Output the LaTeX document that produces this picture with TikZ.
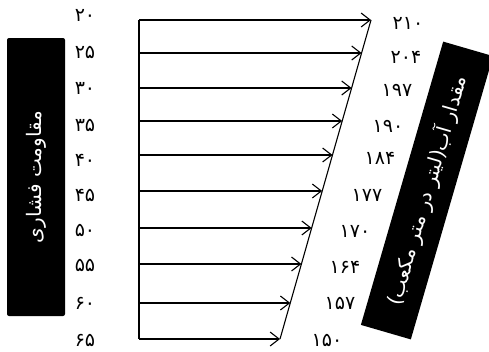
\documentclass[tikz,border=0pt]{standalone}
\usepackage{fontspec}
\usepackage{tikz}
\usetikzlibrary{arrows.meta, positioning}
\TeXXeTstate=1
\newfontfamily\arabicfont[Script=Arabic]{DejaVu Sans}

\begin{document}
\begin{tikzpicture}[
		x=1pt, y=-1pt,
		darkbox/.style={
			fill=black,
			text=white,
			inner sep=0pt,
			align=center,
			font=\arabicfont\fontsize{20}{24}\selectfont
		},
		num/.style={
			inner sep=0pt,
			font=\arabicfont\fontsize{19}{22}\selectfont
		},
		arrow/.style={-{Straight Barb[length=9pt, width=14pt]}, line width=1.1pt}
		]
		
		\useasboundingbox (0,0) rectangle (489,351);
		
		\node[darkbox, rounded corners=2pt, rotate=90,
			minimum width=278pt, minimum height=58pt] (strength) at (36,177)
		{\beginR مقاومت فشاری\endR};
		
		\node[darkbox, rotate=73.8,
			minimum width=295pt, minimum height=52pt] (water) at (427,190.5)
		{\beginR مقدار آب(لیتر در متر مکعب)\endR};
		
		\coordinate (base0) at (139,20);
		\coordinate (base1) at (139,53);
		\coordinate (base2) at (139,88);
		\coordinate (base3) at (139,121);
		\coordinate (base4) at (139,155);
		\coordinate (base5) at (139,191);
		\coordinate (base6) at (139,228);
		\coordinate (base7) at (139,264);
		\coordinate (base8) at (139,303);
		\coordinate (base9) at (139,339);
		
		\coordinate (tip0) at (371,20);
		\coordinate (tip1) at (361.6,53);
		\coordinate (tip2) at (351.6,88);
		\coordinate (tip3) at (342.2,121);
		\coordinate (tip4) at (332.5,155);
		\coordinate (tip5) at (322.2,191);
		\coordinate (tip6) at (311.7,228);
		\coordinate (tip7) at (301.4,264);
		\coordinate (tip8) at (290.3,303);
		\coordinate (tip9) at (280,339);
		
		\node[num] (s20) at (85,15) {۲۰};
		\node[num] (s25) at (85,52) {۲۵};
		\node[num] (s30) at (85,88) {۳۰};
		\node[num] (s35) at (85,125) {۳۵};
		\node[num] (s40) at (85,160) {۴۰};
		\node[num] (s45) at (85,195) {۴۵};
		\node[num] (s50) at (85,230) {۵۰};
		\node[num] (s55) at (85,265) {۵۵};
		\node[num] (s60) at (85,303) {۶۰};
		\node[num] (s65) at (85,340) {۶۵};
		
		\node[num] (w210) at (408,23) {۲۱۰};
		\node[num] (w204) at (406,57) {۲۰۴};
		\node[num] (w197) at (397,90) {۱۹۷};
		\node[num] (w190) at (388,126) {۱۹۰};
		\node[num] (w184) at (380,158) {۱۸۴};
		\node[num] (w177) at (367,195) {۱۷۷};
		\node[num] (w170) at (355,231) {۱۷۰};
		\node[num] (w164) at (345,267) {۱۶۴};
		\node[num] (w157) at (340,303) {۱۵۷};
		\node[num] (w150) at (327,340) {۱۵۰};
		
		\draw[line width=1.1pt] (base0) -- (base9);
		\draw[line width=1.1pt] (tip0) -- (tip9);
		
		\draw[arrow] (base0) -- (tip0);
		\draw[arrow] (base1) -- (tip1);
		\draw[arrow] (base2) -- (tip2);
		\draw[arrow] (base3) -- (tip3);
		\draw[arrow] (base4) -- (tip4);
		\draw[arrow] (base5) -- (tip5);
		\draw[arrow] (base6) -- (tip6);
		\draw[arrow] (base7) -- (tip7);
		\draw[arrow] (base8) -- (tip8);
		\draw[arrow] (base9) -- (tip9);
		
	\end{tikzpicture}
\end{document}
